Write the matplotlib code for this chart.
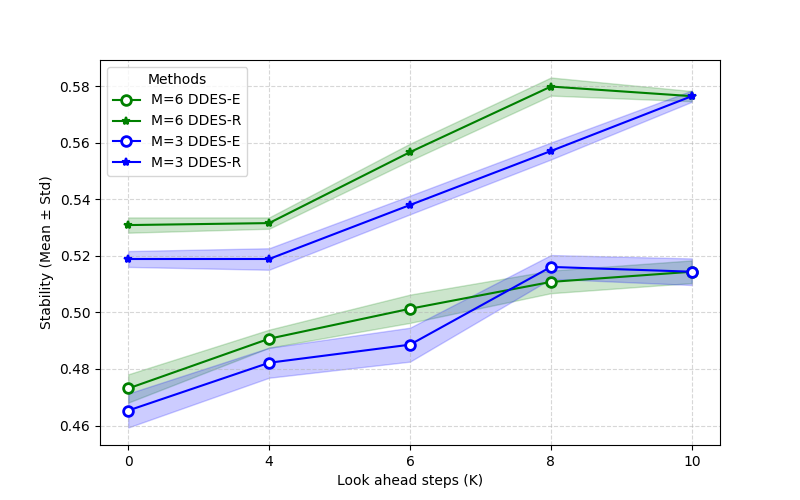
import matplotlib
matplotlib.use("Agg")
import matplotlib.pyplot as plt
import numpy as np

steps = ["0", "4", "6", "8", "10"]

m6_e_mean = [0.4731, 0.4907, 0.5013, 0.5108, 0.5144]
m6_e_std = [0.0050, 0.0032, 0.0050, 0.0040, 0.0040]
m6_r_mean = [0.5309, 0.5316, 0.5567, 0.5799, 0.5765]
m6_r_std = [0.0027, 0.0020, 0.0030, 0.0032, 0.0018]
m3_e_mean = [0.4653, 0.4822, 0.4886, 0.5161, 0.5144]
m3_e_std = [0.0060, 0.0053, 0.0060, 0.0042, 0.0047]
m3_r_mean = [0.5189, 0.5189, 0.5380, 0.5571, 0.5765]
m3_r_std = [0.0028, 0.0038, 0.0033, 0.0030, 0.0020]

fig, ax = plt.subplots(figsize=(8, 5), dpi=100)
x = np.arange(len(steps))

series = [
    ("M=6 DDES-E", m6_e_mean, m6_e_std, "green", "o"),
    ("M=6 DDES-R", m6_r_mean, m6_r_std, "green", "*"),
    ("M=3 DDES-E", m3_e_mean, m3_e_std, "blue", "o"),
    ("M=3 DDES-R", m3_r_mean, m3_r_std, "blue", "*"),
]

for label, mean, std, color, marker in series:
    mean = np.array(mean)
    std = np.array(std)
    if marker == "o":
        ax.plot(x, mean, color=color, marker="o", markersize=7,
                markerfacecolor="white", markeredgewidth=2, linewidth=1.5, label=label)
    else:
        ax.plot(x, mean, color=color, marker="*", markersize=6,
                markeredgewidth=1.5, linewidth=1.5, label=label)
    ax.fill_between(x, mean - std, mean + std, color=color, alpha=0.2)

ax.set_xticks(x)
ax.set_xticklabels(steps)
ax.set_xlabel("Look ahead steps (K)")
ax.set_ylabel("Stability (Mean ± Std)")
ax.grid(True, linestyle="--", alpha=0.5)
ax.legend(title="Methods", loc="upper left")

fig.savefig("out.png", dpi=100)
